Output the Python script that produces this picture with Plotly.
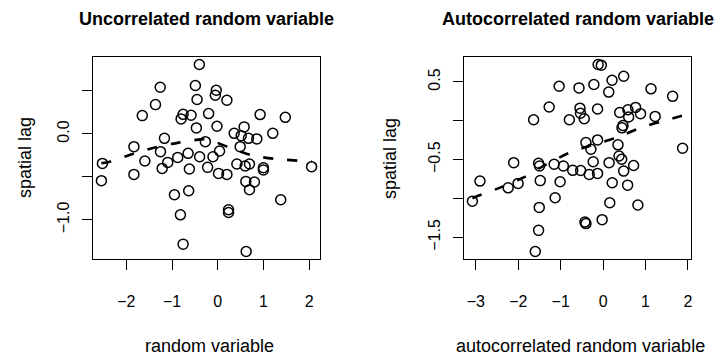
import plotly.graph_objects as go

# ---------------- data ----------------
left_x = [-0.403, -1.259, -0.490, -0.033, -0.054, -0.453, -1.362, -1.651, -0.758, -0.584,
          -0.802, -0.200, -0.468, -0.017, 0.200, 0.926, 1.477, 0.577, -1.166, -1.834,
          -0.272, 0.359, 0.512, 0.671, 0.854, 1.203, 0.490, -2.523, -1.595, -1.253,
          -1.094, -1.216, -0.876, -0.649, -0.397, -0.105, 0.039, -0.621, -0.222, 0.017,
          0.200, 0.418, 0.599, 0.693, 0.998, 0.998, 2.052, -1.834, -2.545, 0.614,
          0.802, 0.693, -0.948, -0.636, 1.377, -0.817, 0.235, 0.235, -0.758, 0.621]
left_y = [0.808, 0.543, 0.563, 0.508, 0.450, 0.400, 0.341, 0.213, 0.228, 0.217,
          0.175, 0.237, 0.070, 0.089, 0.392, 0.225, 0.193, 0.082, -0.051, -0.148,
          -0.090, 0.007, -0.020, -0.051, -0.058, 0.007, -0.148, -0.343, -0.315, -0.206,
          -0.331, -0.401, -0.273, -0.226, -0.265, -0.265, -0.198, -0.408, -0.389, -0.459,
          -0.471, -0.350, -0.373, -0.350, -0.393, -0.420, -0.381, -0.471, -0.544, -0.552,
          -0.559, -0.649, -0.707, -0.661, -0.766, -0.941, -0.882, -0.914, -1.282, -1.368]

right_x = [-0.117, -0.042, -1.037, -0.569, -0.218, 0.211, 0.485, 0.133, 1.129, 1.639,
           -1.272, -0.546, -0.534, -0.445, -0.796, -0.131, -1.639, 0.391, 0.585, 0.766,
           0.883, 0.602, 1.227, 0.468, 0.445, 1.874, -0.405, -0.131, -0.288, 0.351,
           0.375, 0.438, 0.141, 0.719, 0.485, -0.234, -1.522, -1.499, -1.155, -0.937,
           -0.717, -0.529, -0.328, -0.131, -1.482, -1.014, 0.215, 0.578, -1.131, 0.157,
           0.820, -1.506, -3.082, -2.904, -2.108, -2.239, -2.005, -1.522, -1.600, -0.023,
           -0.429, -0.405]
right_y = [0.724, 0.715, 0.444, 0.423, 0.466, 0.521, 0.573, 0.369, 0.411, 0.314,
           0.177, 0.162, 0.097, 0.026, 0.013, 0.151, 0.013, 0.107, 0.142, 0.172,
           0.091, 0.048, 0.056, -0.061, -0.091, -0.353, -0.281, -0.246, -0.366, -0.310,
           -0.453, -0.495, -0.539, -0.576, -0.647, -0.527, -0.547, -0.582, -0.560, -0.582,
           -0.638, -0.640, -0.690, -0.677, -0.770, -0.785, -0.798, -0.828, -0.990, -1.054,
           -1.083, -1.115, -1.035, -0.776, -0.539, -0.863, -0.806, -1.410, -1.682, -1.272,
           -1.303, -1.323]

left_smooth_x = [-2.545, -2.41, -1.93, -1.40, -0.82, -0.25, 0.25, 0.77, 1.32, 1.88, 2.052]
left_smooth_y = [-0.34, -0.33, -0.245, -0.16, -0.098, -0.061, -0.157, -0.253, -0.294, -0.315, -0.32]
right_smooth_x = [-3.082, -2.93, -2.40, -1.86, -1.35, -0.78, -0.25, 0.34, 0.91, 1.50, 1.874]
right_smooth_y = [-0.996, -0.962, -0.854, -0.724, -0.563, -0.408, -0.31, -0.213, -0.084, 0.009, 0.067]

left_xticks = [-2, -1, 0, 1, 2]
left_xlabels = ["\u22122", "\u22121", "0", "1", "2"]
left_yticks = [-1.0, -0.5, 0.0, 0.5]
left_ylabels = ["\u22121.0", "", "0.0", ""]
right_xticks = [-3, -2, -1, 0, 1, 2]
right_xlabels = ["\u22123", "\u22122", "\u22121", "0", "1", "2"]
right_yticks = [-1.5, -1.0, -0.5, 0.0, 0.5]
right_ylabels = ["\u22121.5", "", "\u22120.5", "", "0.5"]

panel_titles = ["Uncorrelated random variable", "Autocorrelated random variable"]
x_titles = ["random variable", "autocorrelated random variable"]
y_title = "spatial lag"

# ---------------- figure ----------------
W, H = 719, 359
FONT = "Liberation Sans, Arial, Helvetica, sans-serif"


def r_range(v):
    lo, hi = min(v), max(v)
    d = hi - lo
    return [lo - 0.04 * d, hi + 0.04 * d]


fig = go.Figure()
for xs, ys, sx, sy, xa, ya in [
    (left_x, left_y, left_smooth_x, left_smooth_y, "x", "y"),
    (right_x, right_y, right_smooth_x, right_smooth_y, "x2", "y2"),
]:
    fig.add_trace(go.Scatter(x=xs, y=ys, mode="markers", xaxis=xa, yaxis=ya,
                             marker=dict(symbol="circle-open", size=10, color="black",
                                         line=dict(width=1.5, color="black")),
                             showlegend=False, hoverinfo="skip"))
    fig.add_trace(go.Scatter(x=sx, y=sy, mode="lines", xaxis=xa, yaxis=ya,
                             line=dict(color="black", width=2.6, dash="10px,14px",
                                       shape="spline", smoothing=0.6),
                             showlegend=False, hoverinfo="skip"))

dom_y = [1 - 259 / H, 1 - 57 / H]
dom_x1 = [93 / W, 320 / W]
dom_x2 = [464 / W, 691 / W]

axis_common = dict(showline=True, mirror=True, linecolor="black", linewidth=1.3,
                   ticks="outside", ticklen=10, tickwidth=1.2, tickcolor="black",
                   showgrid=False, zeroline=False, tickmode="array",
                   tickfont=dict(family=FONT, size=16, color="black"))

fig.update_layout(
    width=W, height=H, margin=dict(l=0, r=0, t=0, b=0),
    paper_bgcolor="white", plot_bgcolor="white",
    xaxis=dict(domain=dom_x1, range=r_range(left_x), anchor="y",
               tickvals=left_xticks, ticktext=left_xlabels, ticklabelstandoff=18, **axis_common),
    yaxis=dict(domain=dom_y, range=r_range(left_y), anchor="x",
               tickvals=left_yticks, ticktext=left_ylabels, tickangle=-90,
               ticklabelstandoff=6, **axis_common),
    xaxis2=dict(domain=dom_x2, range=r_range(right_x), anchor="y2",
                tickvals=right_xticks, ticktext=right_xlabels, ticklabelstandoff=18, **axis_common),
    yaxis2=dict(domain=dom_y, range=r_range(right_y), anchor="x2",
                tickvals=right_yticks, ticktext=right_ylabels, tickangle=-90,
                ticklabelstandoff=6, **axis_common),
)

ann = []
for dom, t, xt, yx in [(dom_x1, panel_titles[0], x_titles[0], 25),
                       (dom_x2, panel_titles[1], x_titles[1], 390)]:
    cx = (dom[0] + dom[1]) / 2
    ann.append(dict(text="<b>" + t + "</b>", x=cx, y=1 - 19 / H, xref="paper", yref="paper",
                    xanchor="center", yanchor="middle", showarrow=False,
                    font=dict(family=FONT, size=18, color="black")))
    ann.append(dict(text=xt, x=cx + 3 / W, y=1 - 346 / H, xref="paper", yref="paper",
                    xanchor="center", yanchor="middle", showarrow=False,
                    font=dict(family=FONT, size=18, color="black")))
    ann.append(dict(text=y_title, x=yx / W, y=(dom_y[0] + dom_y[1]) / 2, xref="paper",
                    yref="paper", xanchor="center", yanchor="middle", textangle=-90,
                    showarrow=False, font=dict(family=FONT, size=18, color="black")))
fig.update_layout(annotations=ann)

fig.write_html("out.html", config={"displayModeBar": False},
               post_script="document.body.style.margin='0px';document.body.style.overflow='hidden';")
